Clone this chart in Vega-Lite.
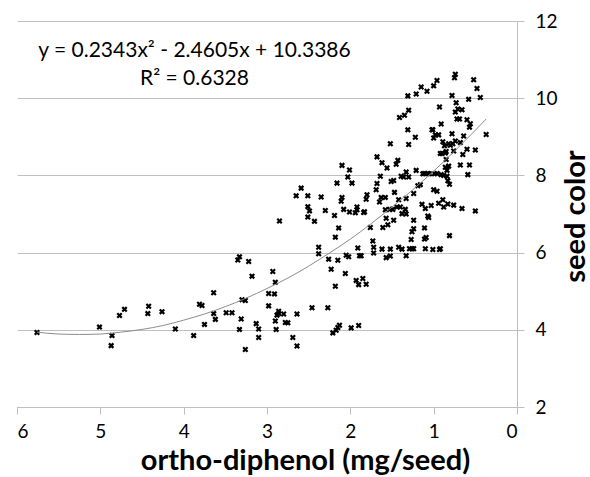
{
  "$schema": "https://vega.github.io/schema/vega-lite/v6.json",
  "width": 500,
  "height": 386,
  "autosize": "none",
  "padding": {"left": 17, "top": 21, "right": 73, "bottom": 70},
  "background": "white",
  "config": {"view": {"stroke": null}, "font": "Lato"},
  "datasets": {
    "pts": [
{"od":5.76,"sc":3.93},{"od":5.01,"sc":4.07},{"od":4.86,"sc":3.85},{"od":4.87,"sc":3.59},{"od":4.77,"sc":4.37},{"od":4.71,"sc":4.53},{"od":4.43,"sc":4.42},{"od":4.42,"sc":4.61},{"od":4.26,"sc":4.47},{"od":4.10,"sc":4.02},
{"od":3.88,"sc":3.85},{"od":3.81,"sc":4.66},{"od":3.78,"sc":4.63},{"od":3.75,"sc":4.14},{"od":3.64,"sc":4.96},{"od":3.64,"sc":4.42},{"od":3.62,"sc":4.27},{"od":3.49,"sc":4.44},{"od":3.42,"sc":4.44},{"od":3.35,"sc":5.81},
{"od":3.33,"sc":5.89},{"od":3.33,"sc":4.01},{"od":3.31,"sc":4.28},{"od":3.30,"sc":4.78},{"od":3.26,"sc":4.76},{"od":3.26,"sc":3.49},{"od":3.22,"sc":5.77},{"od":3.18,"sc":5.39},{"od":3.13,"sc":4.16},{"od":3.10,"sc":4.02},
{"od":3.10,"sc":3.80},{"od":2.98,"sc":4.62},{"od":2.98,"sc":4.94},{"od":2.93,"sc":5.51},{"od":2.91,"sc":4.93},{"od":2.90,"sc":5.23},{"od":2.90,"sc":4.23},{"od":2.89,"sc":4.01},{"od":2.88,"sc":4.38},{"od":2.86,"sc":4.48},
{"od":2.86,"sc":4.42},{"od":2.80,"sc":4.41},{"od":2.78,"sc":4.19},{"od":2.75,"sc":4.18},{"od":2.69,"sc":3.80},{"od":2.64,"sc":4.41},{"od":2.64,"sc":3.58},{"od":2.65,"sc":7.47},{"od":2.85,"sc":6.82},{"od":2.59,"sc":7.67},
{"od":2.51,"sc":7.47},{"od":2.51,"sc":6.92},{"od":2.51,"sc":7.19},{"od":2.49,"sc":7.08},{"od":2.46,"sc":4.57},{"od":2.43,"sc":6.81},{"od":2.35,"sc":7.44},{"od":2.38,"sc":6.14},{"od":2.38,"sc":5.97},{"od":2.30,"sc":7.09},
{"od":2.27,"sc":4.57},{"od":2.26,"sc":5.83},{"od":2.23,"sc":5.57},{"od":2.21,"sc":3.92},{"od":2.19,"sc":6.96},{"od":2.18,"sc":6.40},{"od":2.18,"sc":5.13},{"od":2.17,"sc":3.99},{"od":2.16,"sc":7.80},{"od":2.15,"sc":5.80},
{"od":2.15,"sc":4.06},{"od":2.14,"sc":6.64},{"od":2.13,"sc":4.12},{"od":2.11,"sc":7.33},{"od":2.10,"sc":7.43},{"od":2.10,"sc":8.26},{"od":2.08,"sc":7.12},{"od":2.06,"sc":5.46},{"od":2.05,"sc":5.93},{"od":2.03,"sc":7.96},
{"od":2.02,"sc":5.89},{"od":2.01,"sc":7.05},{"od":2.01,"sc":8.14},{"od":1.98,"sc":7.80},{"od":1.99,"sc":4.05},{"od":1.94,"sc":7.03},{"od":1.92,"sc":7.18},{"od":1.92,"sc":7.11},{"od":1.91,"sc":6.12},{"od":1.90,"sc":4.11},
{"od":1.93,"sc":5.28},{"od":1.89,"sc":5.92},{"od":1.90,"sc":5.17},{"od":1.87,"sc":5.92},{"od":1.85,"sc":5.33},{"od":1.84,"sc":7.04},{"od":1.83,"sc":7.06},{"od":1.81,"sc":5.18},{"od":1.81,"sc":7.38},{"od":1.80,"sc":7.50},
{"od":1.76,"sc":6.65},{"od":1.73,"sc":6.30},{"od":1.72,"sc":6.14},{"od":1.72,"sc":5.99},{"od":1.69,"sc":7.63},{"od":1.68,"sc":8.48},{"od":1.68,"sc":7.79},{"od":1.65,"sc":7.31},{"od":1.64,"sc":7.98},{"od":1.63,"sc":7.43},
{"od":1.62,"sc":8.33},{"od":1.62,"sc":6.09},{"od":1.61,"sc":6.65},{"od":1.58,"sc":7.43},{"od":1.58,"sc":7.11},{"od":1.56,"sc":8.19},{"od":1.57,"sc":6.89},{"od":1.57,"sc":5.87},{"od":1.55,"sc":6.72},{"od":1.53,"sc":7.12},
{"od":1.52,"sc":5.91},{"od":1.52,"sc":6.09},{"od":1.51,"sc":7.84},{"od":1.52,"sc":8.82},{"od":1.49,"sc":7.12},{"od":1.48,"sc":7.87},{"od":1.48,"sc":6.84},{"od":1.47,"sc":7.56},{"od":1.45,"sc":8.29},{"od":1.44,"sc":7.18},
{"od":1.43,"sc":8.39},{"od":1.42,"sc":6.14},{"od":1.42,"sc":7.37},{"od":1.40,"sc":7.18},{"od":1.41,"sc":9.50},{"od":1.39,"sc":7.98},{"od":1.38,"sc":6.09},{"od":1.38,"sc":7.01},{"od":1.36,"sc":7.96},{"od":1.35,"sc":9.56},
{"od":1.34,"sc":7.12},{"od":1.33,"sc":8.09},{"od":1.33,"sc":7.40},{"od":1.33,"sc":5.92},{"od":1.33,"sc":7.00},{"od":1.30,"sc":9.69},{"od":1.31,"sc":10.06},{"od":1.31,"sc":9.18},{"od":1.30,"sc":8.80},{"od":1.30,"sc":7.96},
{"od":1.29,"sc":6.10},{"od":1.27,"sc":6.34},{"od":1.26,"sc":6.54},{"od":1.26,"sc":6.10},{"od":1.24,"sc":6.84},{"od":1.24,"sc":6.62},{"od":1.24,"sc":6.10},{"od":1.24,"sc":7.53},{"od":1.22,"sc":8.99},{"od":1.21,"sc":10.11},
{"od":1.21,"sc":8.13},{"od":1.19,"sc":7.73},{"od":1.16,"sc":7.76},{"od":1.15,"sc":10.29},{"od":1.14,"sc":7.25},{"od":1.13,"sc":8.04},{"od":1.11,"sc":6.64},{"od":1.11,"sc":6.35},{"od":1.11,"sc":8.05},{"od":1.10,"sc":7.14},
{"od":1.10,"sc":6.10},{"od":1.09,"sc":6.39},{"od":1.08,"sc":10.18},{"od":1.07,"sc":8.05},{"od":1.07,"sc":6.95},{"od":1.06,"sc":6.91},{"od":1.05,"sc":8.04},{"od":1.03,"sc":7.22},{"od":1.02,"sc":9.18},{"od":1.01,"sc":9.18},
{"od":1.01,"sc":6.08},{"od":1.00,"sc":10.32},{"od":1.00,"sc":7.63},{"od":1.00,"sc":8.97},{"od":0.99,"sc":8.04},{"od":0.98,"sc":9.05},{"od":0.96,"sc":7.59},{"od":0.96,"sc":8.05},{"od":0.96,"sc":10.46},{"od":0.94,"sc":9.05},
{"od":0.94,"sc":7.28},{"od":0.93,"sc":6.08},{"od":0.93,"sc":9.77},{"od":0.92,"sc":8.57},{"od":0.92,"sc":6.10},{"od":0.91,"sc":9.33},{"od":0.91,"sc":8.02},{"od":0.90,"sc":8.57},{"od":0.89,"sc":8.87},{"od":0.89,"sc":7.37},
{"od":0.88,"sc":7.18},{"od":0.88,"sc":8.00},{"od":0.87,"sc":8.77},{"od":0.86,"sc":8.58},{"od":0.86,"sc":8.21},{"od":0.85,"sc":8.62},{"od":0.85,"sc":8.41},{"od":0.84,"sc":8.13},{"od":0.84,"sc":7.98},{"od":0.83,"sc":7.26},
{"od":0.82,"sc":8.24},{"od":0.83,"sc":7.86},{"od":0.82,"sc":8.82},{"od":0.81,"sc":6.44},{"od":0.81,"sc":7.77},{"od":0.80,"sc":8.78},{"od":0.78,"sc":10.07},{"od":0.78,"sc":9.08},{"od":0.77,"sc":8.82},{"od":0.76,"sc":7.23},
{"od":0.76,"sc":8.63},{"od":0.75,"sc":10.53},{"od":0.74,"sc":10.62},{"od":0.74,"sc":8.89},{"od":0.74,"sc":9.64},{"od":0.73,"sc":9.88},{"od":0.72,"sc":9.46},{"od":0.71,"sc":9.72},{"od":0.69,"sc":9.46},{"od":0.68,"sc":8.85},
{"od":0.68,"sc":8.27},{"od":0.66,"sc":9.70},{"od":0.66,"sc":7.14},{"od":0.65,"sc":8.54},{"od":0.64,"sc":9.02},{"od":0.60,"sc":9.44},{"od":0.60,"sc":8.68},{"od":0.59,"sc":8.02},{"od":0.58,"sc":9.97},{"od":0.57,"sc":9.25},
{"od":0.57,"sc":8.27},{"od":0.56,"sc":9.34},{"od":0.52,"sc":10.48},{"od":0.50,"sc":8.66},{"od":0.50,"sc":7.08},{"od":0.48,"sc":10.25},{"od":0.44,"sc":10.02},{"od":0.37,"sc":9.06}
    ],
    "trend": [
{"od":5.76,"sc":3.94},{"od":5.5,"sc":3.89},{"od":5.25,"sc":3.88},{"od":5.0,"sc":3.89},{"od":4.75,"sc":3.94},{"od":4.5,"sc":4.01},{"od":4.25,"sc":4.11},{"od":4.0,"sc":4.25},
{"od":3.75,"sc":4.41},{"od":3.5,"sc":4.60},{"od":3.25,"sc":4.82},{"od":3.0,"sc":5.07},{"od":2.75,"sc":5.34},{"od":2.5,"sc":5.65},{"od":2.25,"sc":5.99},{"od":2.0,"sc":6.35},
{"od":1.75,"sc":6.75},{"od":1.5,"sc":7.18},{"od":1.25,"sc":7.63},{"od":1.0,"sc":8.11},{"od":0.75,"sc":8.63},{"od":0.5,"sc":9.17},{"od":0.37,"sc":9.46}
    ]
  },
  "layer": [
    {
      "data": {"name": "pts"},
      "mark": {"type": "point", "shape": "M-1,-1L1,1M1,-1L-1,1", "filled": false, "stroke": "black", "strokeWidth": 2.2, "size": 20, "opacity": 1},
      "encoding": {
        "x": {"field": "od", "type": "quantitative",
          "scale": {"domain": [0, 6], "reverse": true, "nice": false, "zero": false},
          "axis": {"orient": "bottom", "values": [0,1,2,3,4,5,6], "format": "d", "grid": false, "title": "ortho-diphenol (mg/seed)",
            "domainColor": "#bfbfbf", "tickColor": "#bfbfbf", "tickSize": 7, "labelFontSize": 19, "labelColor": "black", "labelFont": "Lato", "labelPadding": 8,
            "titleFontSize": 29, "titleFontWeight": "bold", "titleColor": "black", "titleFont": "Lato", "titlePadding": 5, "titleX": 288}},
        "y": {"field": "sc", "type": "quantitative",
          "scale": {"domain": [2, 12], "nice": false, "zero": false},
          "axis": {"orient": "right", "values": [2,4,6,8,10,12], "format": "d", "grid": true, "gridColor": "#bfbfbf", "title": "seed color",
            "domainColor": "#bfbfbf", "tickColor": "#bfbfbf", "tickSize": 7, "labelFontSize": 19, "labelColor": "black", "labelFont": "Lato", "labelPadding": 11,
            "titleFontSize": 29, "titleFontWeight": "bold", "titleColor": "black", "titleFont": "Lato", "titleAngle": 270,
            "titleX": 58, "titleY": 195, "titleAlign": "center", "titleBaseline": "middle"}}
      }
    },
    {
      "data": {"name": "trend"},
      "mark": {"type": "line", "stroke": "#8c8c8c", "strokeWidth": 1, "interpolate": "monotone"},
      "encoding": {
        "x": {"field": "od", "type": "quantitative"},
        "y": {"field": "sc", "type": "quantitative"}
      }
    },
    {
      "data": {"values": [{}]},
      "mark": {"type": "text", "align": "center", "baseline": "middle", "fontSize": 21, "font": "Lato", "fontWeight": "normal", "lineHeight": 28, "fill": "black", "strokeWidth": 0},
      "encoding": {
        "x": {"datum": 3.87},
        "y": {"datum": 11.21},
        "text": {"value": ["y = 0.2343x² - 2.4605x + 10.3386", "R² = 0.6328"]}
      }
    }
  ]
}
